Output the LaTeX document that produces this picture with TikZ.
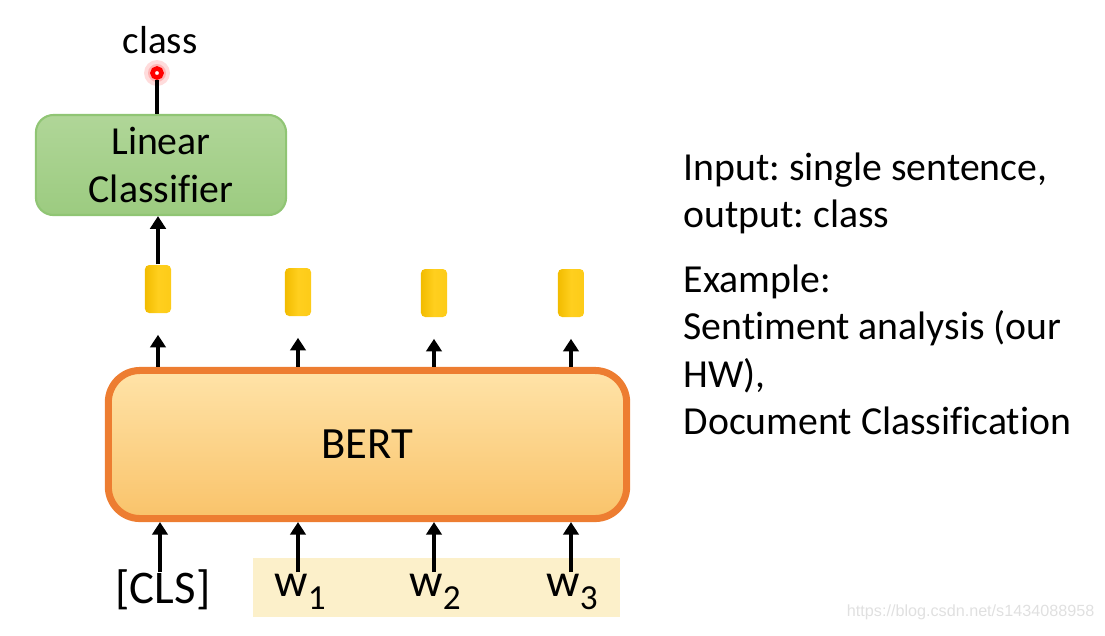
\documentclass[tikz,border=0pt]{standalone}
\usepackage{fontspec}
\setmainfont{Carlito}[Ligatures=NoCommon]
\newfontfamily\markfont{Liberation Sans}
\usepackage{xcolor}
\usetikzlibrary{arrows.meta,positioning}

\definecolor{bertedge}{HTML}{ED7D31}
\definecolor{berttop}{HTML}{FFE3A8}
\definecolor{bertbot}{HTML}{F9C36A}
\definecolor{lintop}{HTML}{B0D698}
\definecolor{linbot}{HTML}{9CCB80}
\definecolor{linedge}{HTML}{90C574}
\definecolor{vecdark}{HTML}{F2BC00}
\definecolor{veclight}{HTML}{FFCF1E}
\definecolor{tokback}{HTML}{FCF0CA}

\tikzset{
	arr/.style={line width=1pt,-{Triangle[length=3.6pt,width=4.4pt]}},
	vecbox/.style={rounded corners=1.2pt,minimum width=0.26cm,minimum height=0.48cm,
		inner sep=0pt,left color=vecdark,right color=veclight!80!vecdark,middle color=veclight},
	tok/.style={font=\fontsize{13.3}{14}\selectfont,inner sep=0pt}
}
\newcommand{\tokw}[1]{w\raisebox{-0.6ex}{\fontsize{10}{10}\selectfont #1}}

\begin{document}
\frenchspacing
\begin{tikzpicture}[x=0.01cm,y=-0.01cm]
	\useasboundingbox (0,0) rectangle (1105,635);

	% output side
	\node[font=\fontsize{11.1}{12}\selectfont] (cls-out) at (160,40) {class};
	\fill[red!30,opacity=0.45] (157,73) circle (13);
	\fill[red!45,opacity=0.5] (157,73) circle (9);
	\node[circle,draw=red,fill=white,line width=1.3pt,minimum size=0.09cm,inner sep=0pt] (dot) at (157,73) {};

	\node[rounded corners=5pt,draw=linedge,line width=0.6pt,top color=lintop,bottom color=linbot,
		minimum width=2.5cm,minimum height=1.0cm,align=center,
		font=\fontsize{11.3}{13.5}\selectfont] (lin) at (161,165) {Linear\\Classifier};
	\draw[line width=1pt] (dot) -- (lin.north -| dot);

	% the vectors
	\node[vecbox] (v0) at (158,289) {};
	\node[vecbox] (v1) at (298,292) {};
	\node[vecbox] (v2) at (434,293) {};
	\node[vecbox] (v3) at (571,293) {};

	\draw[arr] (v0.north) -- (lin.south -| v0);

	% BERT
	\node[rounded corners=9pt,draw=bertedge,line width=2pt,top color=berttop,bottom color=bertbot,
		minimum width=5.18cm,minimum height=1.48cm,
		font=\fontsize{12.7}{14}\selectfont] (bert) at (367.5,444.5) {BERT};

	\foreach \v in {v0,v1,v2,v3}
		\draw[arr,shorten >=6pt] (bert.north -| \v) ++(0,-0.08) -- (\v.south);

	% input tokens
	\fill[tokback] (253,558) rectangle (620,617);
	\node[tok] (t0) at (163,590) {[CLS]};
	\node[tok] (t1) at (300,592) {\tokw{1}};
	\node[tok] (t2) at (435,592) {\tokw{2}};
	\node[tok] (t3) at (572,592) {\tokw{3}};

	\draw[arr] (160,572) -- (bert.south -| 160,0);
	\foreach \v in {v1,v2,v3}
		\draw[arr] (\v |- 0,572) -- (bert.south -| \v);

	% description
	\node[anchor=north west,inner sep=0pt,align=left,
		font=\fontsize{11.3}{13.5}\selectfont] (desc) at (683,152)
		{Input: single sentence,\\ output: class\\[4.9pt]
		 Example:\\ Sentiment analysis (our\\ HW),\\ Document Classification};

	\node[anchor=east,inner sep=0pt,text=black!12,font=\markfont\fontsize{4.6}{5}\selectfont] (mark) at (1095,612)
		{https://blog.csdn.net/s1434088958};
\end{tikzpicture}
\end{document}
